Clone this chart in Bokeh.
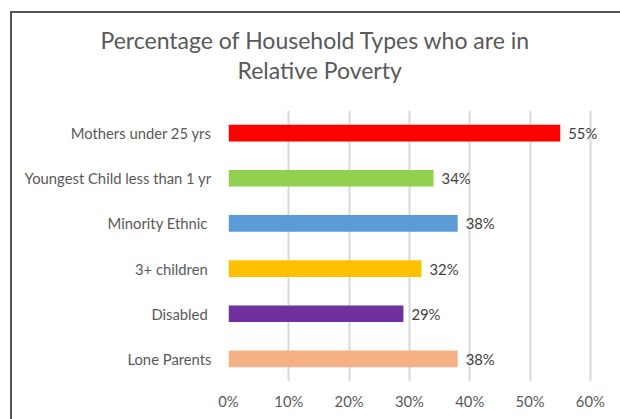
from bokeh.plotting import figure
from bokeh.models import (ColumnDataSource, FactorRange, Range1d, LabelSet, Title,
                          FixedTicker, NumeralTickFormatter)
from bokeh.core.properties import value
from bokeh.embed import file_html
from bokeh.resources import INLINE

categories = ["Mothers under 25 yrs", "Youngest Child less than 1 yr", "Minority Ethnic ",
              "3+ children ", "Disabled ", "Lone Parents"]
values = [0.55, 0.34, 0.38, 0.32, 0.29, 0.38]
labels = ["55%", "34%", "38%", "32%", "29%", "38%"]
colors = ["#FF0000", "#92D050", "#5B9BD5", "#FFC000", "#7030A0", "#F4B183"]
x_ticks = [0, 0.1, 0.2, 0.3, 0.4, 0.5, 0.6]
title_lines = ["Percentage of Household Types who are in", "Relative Poverty"]

FONT = "Lato"
LBL = "14.8px"
TTL = "23px"

src = ColumnDataSource(dict(cat=categories, val=values, lab=labels, col=colors))

p = figure(width=620, height=419, output_backend="svg", toolbar_location=None,
           y_range=FactorRange(factors=list(reversed(categories))),
           x_range=Range1d(0, 0.64),
           min_border_left=228, min_border_right=6, min_border_top=110, min_border_bottom=38)
p.outline_line_color = None
p.background_fill_color = None
p.border_fill_color = None
p.styles = {
    "background": "linear-gradient(#555555, #555555) 10px 11px / 2px 100% no-repeat, "
                  "linear-gradient(#555555, #555555) 10px 11px / 100% 2px no-repeat, white"
}

p.hbar(y="cat", right="val", left=0, height=0.37, color="col", line_color=None, source=src)

p.add_layout(LabelSet(x="val", y="cat", text="lab", source=src, x_offset=8,
                      text_baseline="middle", text_font=value(FONT), text_font_size=LBL,
                      text_color="#404040"))

p.xgrid.ticker = FixedTicker(ticks=x_ticks)
p.xgrid.grid_line_color = "#d9d9d9"
p.xgrid.grid_line_width = 2
p.ygrid.grid_line_color = None

p.xaxis.ticker = FixedTicker(ticks=x_ticks)
p.xaxis.formatter = NumeralTickFormatter(format="0%")
for ax in (p.xaxis[0], p.yaxis[0]):
    ax.axis_line_color = None
    ax.major_tick_line_color = None
    ax.minor_tick_line_color = None
    ax.major_tick_out = 0
    ax.major_tick_in = 0
    ax.major_label_text_font = FONT
    ax.major_label_text_font_size = LBL
    ax.major_label_text_color = "#595959"
p.xaxis.major_label_standoff = 10
p.yaxis.major_label_standoff = 17

# p.title is outermost; p.above[0] sits next to the plot, later ones further out
p.title.text = title_lines[0]
p.title.align = "left"
p.title.offset = 100 - 228
p.title.text_font = FONT
p.title.text_font_size = TTL
p.title.text_font_style = "normal"
p.title.text_color = "#595959"
p.title.standoff = -1
p.add_layout(Title(text=" ", align="left", text_font=FONT, text_font_size="10px",
                   text_color="#595959", standoff=13), "above")
p.add_layout(Title(text=title_lines[1], align="left", offset=237 - 228, text_font=FONT,
                   text_font_size=TTL, text_font_style="normal", text_color="#595959",
                   standoff=0), "above")

open("out.html", "w").write(file_html(p, INLINE))
